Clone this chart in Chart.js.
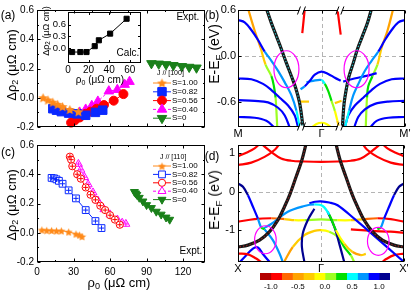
<!DOCTYPE html>
<html>
<head>
<meta charset="utf-8">
<script src="https://cdn.jsdelivr.net/npm/chart.js@4.4.0/dist/chart.umd.min.js"></script>
<style>
  html, body { margin: 0; padding: 0; background: #fff; }
  #fig { position: relative; width: 415px; height: 294px; overflow: hidden; font-family: 'Liberation Sans', Arial, sans-serif; color: #000; }
  canvas { position: absolute; }
  .t { position: absolute; white-space: nowrap; line-height: 1; transform: translate(-50%, -50%); }
  .rot { transform: translate(-50%, -50%) rotate(-90deg); }
  sub { font-size: 70%; vertical-align: -0.3em; line-height: 0; }
</style>
</head>
<body>
<div id="fig">
  <canvas id="cvA" width="212" height="140" style="left:0;top:0"></canvas>
  <canvas id="cvC" width="212" height="160" style="left:0;top:134px"></canvas>
  <canvas id="cvB" width="210" height="140" style="left:205px;top:0"></canvas>
  <canvas id="cvD" width="210" height="141" style="left:205px;top:134px"></canvas>
  <canvas id="cvCb" width="160" height="27" style="left:245px;top:267px"></canvas>
  <canvas id="cvIn" width="106" height="72" style="left:40px;top:4px"></canvas>

  <div class="t" style="left:8px;top:15px;font-size:12px">(a)</div>
  <div class="t" style="left:8px;top:152px;font-size:12px">(c)</div>
  <div class="t" style="left:212px;top:15px;font-size:12px">(b)</div>
  <div class="t" style="left:212px;top:156px;font-size:12px">(d)</div>
  <div class="t" style="left:188px;top:17px;font-size:10px">Expt.</div>
  <div class="t" style="left:191px;top:251px;font-size:10px">Expt.</div>
  <div class="t" style="left:128px;top:53px;font-size:10px">Calc.</div>
  <div class="t rot" style="left:11px;top:65px;font-size:13px">Δρ<sub>2</sub> (μΩ cm)</div>
  <div class="t rot" style="left:11px;top:205px;font-size:13px">Δρ<sub>2</sub> (μΩ cm)</div>
  <div class="t" style="left:119px;top:282px;font-size:13px">ρ<sub>0</sub> (μΩ cm)</div>
  <div class="t" style="left:100px;top:80px;font-size:10px">ρ<sub>0</sub> (μΩ cm)</div>
  <div class="t rot" style="left:46px;top:31px;font-size:9px">Δρ<sub>2</sub> (μΩ cm)</div>
  <div class="t rot" style="left:214px;top:54px;font-size:14px">E-E<sub>F</sub> (eV)</div>
  <div class="t rot" style="left:214px;top:200px;font-size:14px">E-E<sub>F</sub> (eV)</div>
</div>
<script>
// ---------- data ----------
const rhoTicks = [0, 30, 60, 90, 120];
const drhoTicks = [-0.2, 0, 0.2, 0.4, 0.6];
const sLabels = ['S=1.00', 'S=0.82', 'S=0.56', 'S=0.40', 'S=0'];

// (a) J // [100]
const a100 = [[5,0.0],[9,-0.015],[13,-0.03],[17,-0.045],[21,-0.06],[27,-0.08],[34,-0.095]];
const a082 = [[13,-0.075],[16,-0.085],[20,-0.095],[26,-0.105],[33,-0.11],[40,-0.12],[48,-0.1],[54,-0.085]];
const a056 = [[28,-0.17],[31,-0.155],[35,-0.135],[40,-0.11],[44,-0.095],[49,-0.075],[55,-0.05],[63,-0.02],[71,0.025]];
const a040 = [[30,-0.115],[35,-0.1],[40,-0.08],[45,-0.055],[50,-0.025],[59,0.045],[66,0.055],[72,0.09],[76,0.11]];
const a000 = [[94,0.235],[100,0.232],[106,0.228],[112,0.222],[119,0.215],[125,0.21],[131,0.205]];

// inset, calculation
const calcRho = [4, 12, 18, 26, 30, 41, 57];
const calcD = [-0.1, -0.1, -0.1, 0.05, 0.2, 0.37, 0.75];
const inXTicks = [0, 20, 40, 60];
const inYTicks = [0, 0.3, 0.6];

// (c) J // [110]
const c100 = [[4,0.02],[8,0.017],[12,0.016],[16,0.014],[20,0.014],[26,0.006],[32,-0.008],[35,-0.015],[37,-0.025]];
const c082 = [[12,0.375],[14,0.372],[16,0.365],[18,0.355],[21,0.335],[26,0.29],[32,0.235],[40,0.155],[48,0.08],[53,0.032]];
const c056 = [[27,0.52],[28,0.5],[29,0.455],[33,0.4],[36,0.37],[40,0.31],[44,0.26],[48,0.225],[52,0.185],[56,0.155],[60,0.12],[64,0.09],[68,0.055]];
const c040 = [[34,0.47],[36,0.43],[39,0.38],[42,0.33],[46,0.275],[50,0.22],[55,0.16],[60,0.125],[66,0.09],[70,0.068],[73,0.06]];
const c000 = [[80,0.28],[81,0.27],[82,0.26],[84,0.24],[87,0.215],[90,0.19],[94,0.17],[98,0.145],[102,0.125],[106,0.105],[109,0.09]];

// bands: [k, E (eV), projection]; k = -1 (M / X), 0 (Gamma), 1 (M' / X')
const kLabelsB = ['M', 'Γ', "M'"];
const kLabelsD = ['X', 'Γ', "X'"];
const eTicksB = [-0.6, 0, 0.6];
const eTicksD = [-1, 0, 1];

const bandsB = [
  [[-1,0.47,0.9],[-0.92,0.44,0.9],[-0.84,0.34,0.9],[-0.76,0.21,0.9],[-0.68,0.06,0.7],[-0.6,-0.06,0.7],[-0.52,-0.19,0.7],[-0.44,-0.34,0.7],[-0.36,-0.51,0.6],[-0.3,-0.71,0.6],[-0.26,-0.93,0.5]],
  [[-1,-0.29,0.9],[-0.84,-0.3,0.9],[-0.7,-0.36,0.9],[-0.6,-0.44,0.9],[-0.5,-0.54,0.9],[-0.4,-0.64,0.9],[-0.32,-0.77,0.9],[-0.28,-0.93,0.9]],
  [[-1,-0.57,0.9],[-0.8,-0.58,0.9],[-0.64,-0.6,0.9],[-0.52,-0.67,0.9],[-0.44,-0.77,0.9],[-0.38,-0.93,0.9]],
  [[-1,-0.79,0.9],[-0.8,-0.8,0.9],[-0.66,-0.84,0.9],[-0.56,-0.93,0.9]],
  [[-0.88,0.62,-0.5],[-0.8,0.33,-0.5],[-0.73,0.11,-0.5],[-0.67,-0.11,-0.1],[-0.6,-0.26,0.3],[-0.57,-0.39,0.3],[-0.55,-0.54,0.1],[-0.54,-0.71,0.1],[-0.53,-0.93,0.1]],
  [[-0.25,-0.43,0.7],[-0.2,-0.39,0.7],[-0.14,-0.32,0.9],[-0.08,-0.24,0.9],[0,-0.2,0.9],[0.08,-0.23,0.9],[0.16,-0.28,0.9],[0.23,-0.32,0.9]],
  [[-0.18,-0.34,0.7],[-0.1,-0.32,0.7],[0,-0.31,0.5],[0.04,-0.36,0.3],[0.08,-0.45,0.3],[0.12,-0.58,0.1],[0.16,-0.71,-0.1],[0.19,-0.84,-0.3],[0.21,-0.93,-0.3]],
  [[-0.25,-0.59,-0.5],[-0.15,-0.59,-0.3]],
  [[0.16,-0.61,-0.3],[0.24,-0.58,-0.5]],
  [[-0.12,-0.93,-0.3],[-0.06,-0.88,-0.1],[0,-0.865,-0.1],[0.06,-0.88,-0.1],[0.12,-0.93,-0.3]],
  [[-0.2,0.62,-0.9],[-0.23,0.3,-0.9]],
  [[0.19,0.62,-0.9],[0.23,0.28,-0.9]],
  [[1,0.47,0.9],[0.92,0.44,0.9],[0.84,0.34,0.9],[0.76,0.21,0.9],[0.68,0.06,0.7],[0.6,-0.06,0.7],[0.52,-0.19,0.7],[0.45,-0.34,0.7],[0.38,-0.51,0.6],[0.33,-0.71,0.6],[0.28,-0.93,0.5]],
  [[1,-0.29,0.9],[0.84,-0.3,0.9],[0.7,-0.36,0.9],[0.6,-0.44,0.9],[0.5,-0.54,0.9],[0.4,-0.64,0.9],[0.32,-0.77,0.9],[0.28,-0.93,0.9]],
  [[0.26,-0.33,0.9],[0.36,-0.3,0.9],[0.48,-0.27,0.9],[0.6,-0.24,0.9],[0.66,-0.22,0.9]],
  [[1,-0.58,0.9],[0.8,-0.59,0.9],[0.64,-0.62,0.9],[0.52,-0.69,0.9],[0.44,-0.79,0.9],[0.39,-0.93,0.9]],
  [[1,-0.79,0.9],[0.8,-0.8,0.9],[0.66,-0.84,0.9],[0.58,-0.93,0.9]],
  [[0.86,0.62,-0.5],[0.79,0.33,-0.5],[0.72,0.11,-0.5],[0.67,-0.11,-0.1],[0.61,-0.26,0.3],[0.56,-0.39,0.3],[0.545,-0.54,0.1],[0.537,-0.71,0.1],[0.53,-0.93,0.1]]
];
const thickB = [
  [[-0.66,0.62],[-0.6,0.43],[-0.54,0.26],[-0.48,0.09],[-0.42,-0.09],[-0.36,-0.26],[-0.31,-0.41],[-0.26,-0.62],[-0.22,-0.93]],
  [[0.6,0.62],[0.55,0.43],[0.49,0.26],[0.43,0.09],[0.38,-0.09],[0.33,-0.26],[0.3,-0.41],[0.27,-0.62],[0.25,-0.93]]
];

const bandsD = [
  [[-1,0.93,-0.9],[-0.9,1.02,-0.9],[-0.8,1.13,-0.9],[-0.74,1.25,-0.9]],
  [[-1,0.70,-0.9],[-0.84,0.76,-0.9],[-0.68,0.91,-0.9],[-0.56,1.09,-0.9],[-0.5,1.25,-0.9]],
  [[-0.72,1.25,-0.9],[-0.6,1.04,-0.9],[-0.48,0.87,-0.9],[-0.36,0.81,-0.9],[-0.2,0.79,-0.9],[0,0.78,-0.9],[0.2,0.79,-0.9],[0.36,0.81,-0.9],[0.48,0.87,-0.9],[0.6,1.04,-0.9],[0.72,1.25,-0.9]],
  [[1,0.93,-0.9],[0.9,1.02,-0.9],[0.8,1.13,-0.9],[0.74,1.25,-0.9]],
  [[1,0.70,-0.9],[0.84,0.76,-0.9],[0.68,0.91,-0.9],[0.56,1.09,-0.9],[0.5,1.25,-0.9]],
  [[-1,0.22,1.1],[-0.94,0.13,1.1],[-0.88,-0.09,0.9],[-0.82,-0.39,0.9],[-0.76,-0.7,0.9],[-0.72,-0.93,0.3],[-0.68,-0.98,0.3]],
  [[1,0.22,1.1],[0.94,0.13,1.1],[0.88,-0.09,0.9],[0.82,-0.39,0.9],[0.76,-0.7,0.9],[0.72,-0.93,0.3],[0.68,-0.98,0.3]],
  [[-0.7,-0.96,0.5],[-0.6,-0.84,0.7],[-0.4,-0.52,0.7],[-0.2,-0.37,0.7],[-0.08,-0.33,0.5],[0.02,-0.37,0.5],[0.1,-0.6,0.3],[0.18,-1.0,0.1],[0.28,-1.35,-0.3],[0.38,-1.57,-0.5],[0.48,-1.65,-0.5],[0.54,-1.62,-0.3]],
  [[-0.14,-0.3,0.9],[-0.07,-0.26,0.9],[0,-0.25,0.9],[0.1,-0.28,0.9],[0.2,-0.35,0.9],[0.4,-0.7,0.9],[0.6,-1.07,0.9],[0.8,-1.45,0.9],[1,-1.83,0.9]],
  [[-0.08,-0.44,1.1],[-0.16,-0.74,1.1],[-0.22,-1.09,1.1],[-0.23,-1.44,1.1],[-0.2,-1.83,1.1]],
  [[0.08,-0.52,1.1],[0.16,-0.91,1.1],[0.22,-1.35,1.1],[0.28,-1.83,1.1]],
  [[-1,-0.78,-0.9],[-0.8,-0.71,-0.9],[-0.6,-0.69,-0.9],[-0.44,-0.71,-0.5],[-0.32,-0.74,-0.3],[-0.2,-0.74,-0.1],[0,-0.72,0.1],[0.2,-0.74,-0.1],[0.36,-0.74,-0.3],[0.52,-0.71,-0.5],[0.68,-0.69,-0.9],[0.84,-0.71,-0.9],[1,-0.78,-0.9]],
  [[0.36,-0.98,-0.9],[0.6,-1.02,-0.9],[0.84,-1.04,-0.9],[1,-1.07,-0.9]],
  [[-0.44,-1.81,-0.5],[-0.34,-1.44,-0.5],[-0.2,-1.13,-0.3],[-0.08,-1.02,-0.3],[0,-1.0,-0.3],[0.1,-1.04,-0.1],[0.2,-1.17,0.1],[0.28,-1.44,0.3],[0.36,-1.66,0.1],[0.4,-1.83,-0.1]],
  [[-1,-1.61,-0.9],[-0.88,-1.63,-0.9],[-0.78,-1.74,-0.9],[-0.72,-1.83,-0.9]],
  [[1,-1.61,-0.9],[0.88,-1.65,-0.9],[0.78,-1.76,-0.9],[0.74,-1.83,-0.9]],
  [[-1,-1.88,0.9],[-0.92,-1.7,0.9],[-0.82,-1.48,0.9],[-0.76,-1.45,0.9],[-0.7,-1.62,0.9],[-0.62,-1.83,0.9]],
  [[-0.68,-0.98,0.5],[-0.58,-1.26,0.7],[-0.5,-1.61,0.7],[-0.46,-1.83,0.7]]
];
const thickD = [
  [[-0.18,1.25],[-0.23,0.83],[-0.3,0.39],[-0.37,-0.04],[-0.44,-0.39],[-0.52,-0.74],[-0.62,-1.04],[-0.74,-1.26],[-0.88,-1.39],[-1,-1.44]],
  [[0.18,1.25],[0.23,0.83],[0.3,0.39],[0.37,-0.04],[0.44,-0.39],[0.52,-0.74],[0.62,-1.04],[0.74,-1.26],[0.88,-1.39],[1,-1.44]]
];

// circled crossings and axis breaks
const ringsB = [[-0.42,-0.17],[0.42,-0.17]];
const ringsD = [[-0.67,-1.25],[0.69,-1.29]];
const breaksB = [-0.24, 0.22];

// colour bar
const cbEdges = [-1.2,-1.0,-0.8,-0.6,-0.4,-0.2,0,0.2,0.4,0.6,0.8,1.0,1.2];
const cbTicks = [-1, -0.5, 0, 0.5, 1];
const cbColors = ['#b40000','#ff0000','#ff6600','#ffa200','#ffcc00','#ffff00','#9cff22','#00e000','#00ffff','#0096ff','#0000ff','#000090'];

// ---------- styles ----------
const colS = ['#ff8a1a', '#0a28ff', '#ff0000', '#ff00ff', '#1a801a'];

Chart.defaults.font.family = "'Liberation Sans', Arial, sans-serif";
Chart.defaults.font.size = 10;
Chart.defaults.color = '#000';
Chart.defaults.animation = false;
Chart.defaults.events = [];
Chart.defaults.plugins.legend.display = false;
Chart.defaults.plugins.tooltip.enabled = false;

function starImage(size, color) {
  const c = document.createElement('canvas');
  c.width = c.height = size;
  const g = c.getContext('2d');
  const r = size / 2, ri = r * 0.45;
  g.beginPath();
  for (let i = 0; i < 10; i++) {
    const rr = i % 2 ? ri : r - 0.3;
    const an = -Math.PI / 2 + i * Math.PI / 5;
    g.lineTo(r + rr * Math.cos(an), r + 0.6 + rr * Math.sin(an));
  }
  g.closePath();
  g.fillStyle = color;
  g.fill();
  return c;
}

function binOf(w) {
  let i = 0;
  while (i < cbColors.length - 1 && w >= cbEdges[i + 1] - 1e-9) i++;
  return i;
}

function fixedTicks(vals) {
  return s => { s.ticks = vals.map(v => ({value: v})); };
}

function xy(pts) { return pts.map(p => ({x: p[0], y: p[1]})); }

function series(pts, label, color, style, r, extra) {
  return Object.assign({
    label: label, data: xy(pts),
    borderColor: color, backgroundColor: color,
    pointStyle: style, pointRadius: r, pointBorderWidth: 1,
    borderWidth: 1, clip: false
  }, extra || {});
}

function bandSets(bands, thick, dotColor) {
  const out = [];
  thick.forEach(b => {
    out.push({data: xy(b), borderColor: dotColor, borderWidth: 1.3, borderDash: [1.3, 2],
      pointRadius: 0, tension: 0.35, clip: 0});
    out.push({data: xy(b), borderColor: '#161616', borderWidth: 3.2, pointRadius: 0, tension: 0.35, clip: 0});
  });
  bands.forEach(b => {
    out.push({
      data: xy(b), borderWidth: 2.2, pointRadius: 0, tension: 0.35, clip: 0,
      borderColor: cbColors[binOf(b[0][2])],
      segment: {borderColor: c => cbColors[binOf((b[c.p0DataIndex][2] + b[c.p1DataIndex][2]) / 2)]}
    });
  });
  return out;
}

function drawMark(ctx, ds, x, y) {
  const st = ds.pointStyle;
  if (st instanceof HTMLCanvasElement) {
    ctx.drawImage(st, x - st.width / 2, y - st.height / 2);
    return;
  }
  ctx.fillStyle = ds.pointBackgroundColor || ds.backgroundColor;
  ctx.strokeStyle = ds.pointBorderColor || ds.borderColor;
  ctx.lineWidth = ds.pointBorderWidth || 1;
  ctx.setLineDash([]);
  if (Chart.helpers && Chart.helpers.drawPoint) {
    Chart.helpers.drawPoint(ctx, {pointStyle: st, radius: ds.pointRadius, rotation: ds.pointRotation || 0, borderWidth: ctx.lineWidth}, x, y);
  } else {
    ctx.beginPath(); ctx.arc(x, y, ds.pointRadius, 0, 2 * Math.PI); ctx.fill(); ctx.stroke();
  }
}

// frame, inward ticks, zero lines, rings, breaks, legend
const boxPlugin = {
  id: 'box',
  beforeDatasetsDraw(chart, args, o) {
    if (!o.zero) return;
    const {ctx, chartArea: a, scales: {x, y}} = chart;
    const px = Math.round(x.getPixelForValue(0)) + 0.5;
    const py = Math.round(y.getPixelForValue(0)) + 0.5;
    ctx.save();
    ctx.strokeStyle = '#b4b4b4'; ctx.lineWidth = 1; ctx.setLineDash([4, 3]);
    ctx.beginPath();
    ctx.moveTo(px, a.top); ctx.lineTo(px, a.bottom);
    ctx.moveTo(a.left, py); ctx.lineTo(a.right, py);
    ctx.stroke();
    ctx.restore();
  },
  afterDatasetsDraw(chart, args, o) {
    const {ctx, chartArea: a, scales: {x, y}} = chart;
    const L = Math.round(a.left) + 0.5, R = Math.round(a.right) - 0.5;
    const T = Math.round(a.top) + 0.5, B = Math.round(a.bottom) - 0.5;
    ctx.save();
    ctx.setLineDash([]);
    if (o.rings) {
      ctx.strokeStyle = '#ff00ff'; ctx.lineWidth = 1.2;
      o.rings.forEach(p => {
        ctx.beginPath();
        ctx.ellipse(x.getPixelForValue(p[0]), y.getPixelForValue(p[1]), o.rx, o.ry, 0, 0, 2 * Math.PI);
        ctx.stroke();
      });
    }
    ctx.strokeStyle = '#000'; ctx.lineWidth = 1;
    ctx.strokeRect(L, T, R - L, B - T);
    const len = o.tick || 3;
    const xt = x.ticks.map(t => t.value), yt = y.ticks.map(t => t.value);
    const mids = v => v.slice(1).map((t, i) => (t + v[i]) / 2);
    ctx.beginPath();
    const xAll = xt.map(v => [v, len]).concat(o.minorX ? mids(xt).map(v => [v, len / 2]) : []);
    const yAll = yt.map(v => [v, len]).concat(o.minorY ? mids(yt).map(v => [v, len / 2]) : []);
    xAll.forEach(([v, l]) => {
      const p = Math.round(x.getPixelForValue(v)) + 0.5;
      ctx.moveTo(p, B); ctx.lineTo(p, B - l);
      ctx.moveTo(p, T); ctx.lineTo(p, T + l);
    });
    yAll.forEach(([v, l]) => {
      const p = Math.round(y.getPixelForValue(v)) + 0.5;
      ctx.moveTo(L, p); ctx.lineTo(L + l, p);
      ctx.moveTo(R, p); ctx.lineTo(R - l, p);
    });
    ctx.stroke();
    if (o.breaks) {
      o.breaks.forEach(k => {
        const p = x.getPixelForValue(k);
        [T, B].forEach(e => {
          ctx.fillStyle = '#fff';
          ctx.fillRect(p - 2, e - 1, 4, 2);
          ctx.beginPath();
          ctx.moveTo(p - 4, e + 4); ctx.lineTo(p - 1, e - 4);
          ctx.moveTo(p + 1, e + 4); ctx.lineTo(p + 4, e - 4);
          ctx.stroke();
        });
      });
    }
    if (o.legend) {
      const g = o.legend;
      ctx.font = "7px 'Liberation Sans', Arial, sans-serif";
      ctx.fillStyle = '#000'; ctx.textBaseline = 'middle'; ctx.textAlign = 'left';
      ctx.fillText(g.title, g.tx, g.ty);
      let row = 0;
      chart.data.datasets.forEach(ds => {
        if (!ds.label) return;
        const yy = g.y + row * g.dy;
        ctx.strokeStyle = ds.borderColor; ctx.lineWidth = 1;
        ctx.setLineDash(ds.borderDash || []);
        ctx.beginPath(); ctx.moveTo(g.x, yy); ctx.lineTo(g.x + 18, yy); ctx.stroke();
        drawMark(ctx, ds, g.x + 9, yy);
        ctx.font = "8px 'Liberation Sans', Arial, sans-serif";
        ctx.fillStyle = '#000';
        ctx.fillText(ds.label, g.x + 19, yy);
        row++;
      });
    }
    ctx.restore();
  }
};
Chart.register(boxPlugin);

function axis(min, max, vals, fit, ticks) {
  return {
    type: 'linear', min: min, max: max,
    afterBuildTicks: fixedTicks(vals),
    afterFit: fit,
    grid: {display: false, drawTicks: false},
    border: {display: false},
    ticks: Object.assign({padding: 3, autoSkip: false, maxRotation: 0, font: {size: 10}}, ticks || {})
  };
}
const fmt1 = v => v.toFixed(1);

// ---------- (a) ----------
const starA = starImage(11, colS[0]);
new Chart(document.getElementById('cvA'), {
  type: 'line',
  data: {datasets: [
    series(a100, sLabels[0], colS[0], starA, 5),
    series(a082, sLabels[1], colS[1], 'rect', 6),
    series(a056, sLabels[2], colS[2], 'circle', 4.5),
    series(a040, sLabels[3], colS[3], 'triangle', 5.5, {borderDash: [3, 2]}),
    series(a000, sLabels[4], colS[4], 'triangle', 5.5, {pointRotation: 180})
  ]},
  options: {
    responsive: false,
    layout: {padding: {top: 10, right: 7, left: 0, bottom: 0}},
    scales: {
      x: axis(0, 138, rhoTicks, s => { s.height = 13; }, {display: false}),
      y: axis(-0.2, 0.6, drhoTicks, s => { s.width = 37; }, {callback: fmt1})
    },
    plugins: {box: {minorX: true, minorY: true,
      legend: {title: 'J // [100]', tx: 157, ty: 73.5, x: 153, y: 83, dy: 8.8}}}
  }
});

// ---------- inset ----------
new Chart(document.getElementById('cvIn'), {
  type: 'line',
  data: {datasets: [{
    data: calcRho.map((r, i) => ({x: r, y: calcD[i]})),
    borderColor: '#000', backgroundColor: '#000', borderWidth: 1,
    pointStyle: 'rect', pointRadius: 3.6, clip: false
  }]},
  options: {
    responsive: false,
    layout: {padding: {top: 6, right: 3, left: 0, bottom: 0}},
    scales: {
      x: axis(0, 71, inXTicks, s => { s.height = 13; }, {padding: 1}),
      y: axis(-0.38, 0.93, inYTicks, s => { s.width = 28; }, {padding: 2, font: {size: 9.5}, callback: fmt1})
    },
    plugins: {box: {tick: 2.5}}
  }
});

// ---------- (c) ----------
const starC = starImage(9, colS[0]);
const crossOver = (pts, color, r) => ({data: xy(pts), showLine: false, pointStyle: 'cross',
  pointRadius: r, borderColor: color, pointBorderColor: color, pointBorderWidth: 1, clip: false});
new Chart(document.getElementById('cvC'), {
  type: 'line',
  data: {datasets: [
    series(c100, sLabels[0], colS[0], starC, 4),
    crossOver(c082, colS[1], 2.6),
    series(c082, sLabels[1], colS[1], 'rect', 4.8, {backgroundColor: '#fff', pointBackgroundColor: '#fff'}),
    crossOver(c056, colS[2], 2.6),
    series(c056, sLabels[2], colS[2], 'circle', 3.6, {backgroundColor: '#fff', pointBackgroundColor: '#fff'}),
    crossOver(c040, colS[3], 2.4),
    series(c040, sLabels[3], colS[3], 'triangle', 4.6, {backgroundColor: '#fff', pointBackgroundColor: '#fff', borderDash: [3, 2]}),
    series(c000, sLabels[4], colS[4], 'triangle', 4.6, {pointRotation: 180, pointBackgroundColor: colS[4], backgroundColor: '#fff'})
  ]},
  options: {
    responsive: false,
    layout: {padding: {top: 11, right: 7, left: 0, bottom: 0}},
    scales: {
      x: axis(0, 138, rhoTicks, s => { s.height = 32; }, {padding: 4}),
      y: axis(-0.2, 0.6, drhoTicks, s => { s.width = 37; }, {callback: fmt1})
    },
    plugins: {box: {minorX: true, minorY: true,
      legend: {title: 'J // [110]', tx: 160, ty: 23.5, x: 153, y: 32, dy: 8.4}}}
  }
});

// ---------- (b) ----------
new Chart(document.getElementById('cvB'), {
  type: 'line',
  data: {datasets: bandSets(bandsB, thickB, '#2ab8c0')},
  options: {
    responsive: false,
    layout: {padding: {top: 10, right: 10, left: 0, bottom: 0}},
    scales: {
      x: axis(-1, 1, [-1, 0, 1], s => { s.height = 13; }, {padding: 0, font: {size: 11}, callback: (v, i) => kLabelsB[i]}),
      y: axis(-0.92, 0.6, eTicksB, s => { s.width = 33; }, {padding: 2, font: {size: 11}, callback: fmt1})
    },
    plugins: {box: {zero: true, minorY: true, rings: ringsB, rx: 12.5, ry: 18.5, breaks: breaksB}}
  }
});

// ---------- (d) ----------
new Chart(document.getElementById('cvD'), {
  type: 'line',
  data: {datasets: bandSets(bandsD, thickD, '#8a2020')},
  options: {
    responsive: false,
    layout: {padding: {top: 11, right: 11, left: 0, bottom: 0}},
    scales: {
      x: axis(-1, 1, [-1, 0, 1], s => { s.height = 13; }, {padding: 0, font: {size: 11}, callback: (v, i) => kLabelsD[i]}),
      y: axis(-1.83, 1.22, eTicksD, s => { s.width = 33; }, {padding: 3, font: {size: 11}, callback: v => String(v)})
    },
    plugins: {box: {zero: true, minorY: true, rings: ringsD, rx: 10.8, ry: 14}}
  }
});

// ---------- colour bar ----------
new Chart(document.getElementById('cvCb'), {
  type: 'bar',
  data: {
    labels: ['w'],
    datasets: cbColors.map((c, i) => ({
      data: [[cbEdges[i], cbEdges[i + 1]]], backgroundColor: c, borderWidth: 0,
      grouped: false, barPercentage: 1, categoryPercentage: 1
    }))
  },
  options: {
    responsive: false,
    indexAxis: 'y',
    layout: {padding: {left: 15, right: 15, top: 6, bottom: 0}},
    scales: {
      x: axis(-1.2, 1.2, cbTicks, s => { s.height = 14; }, {padding: 2, font: {size: 8}, callback: fmt1}),
      y: {display: false}
    },
    plugins: {box: false}
  }
});
</script>
</body>
</html>
